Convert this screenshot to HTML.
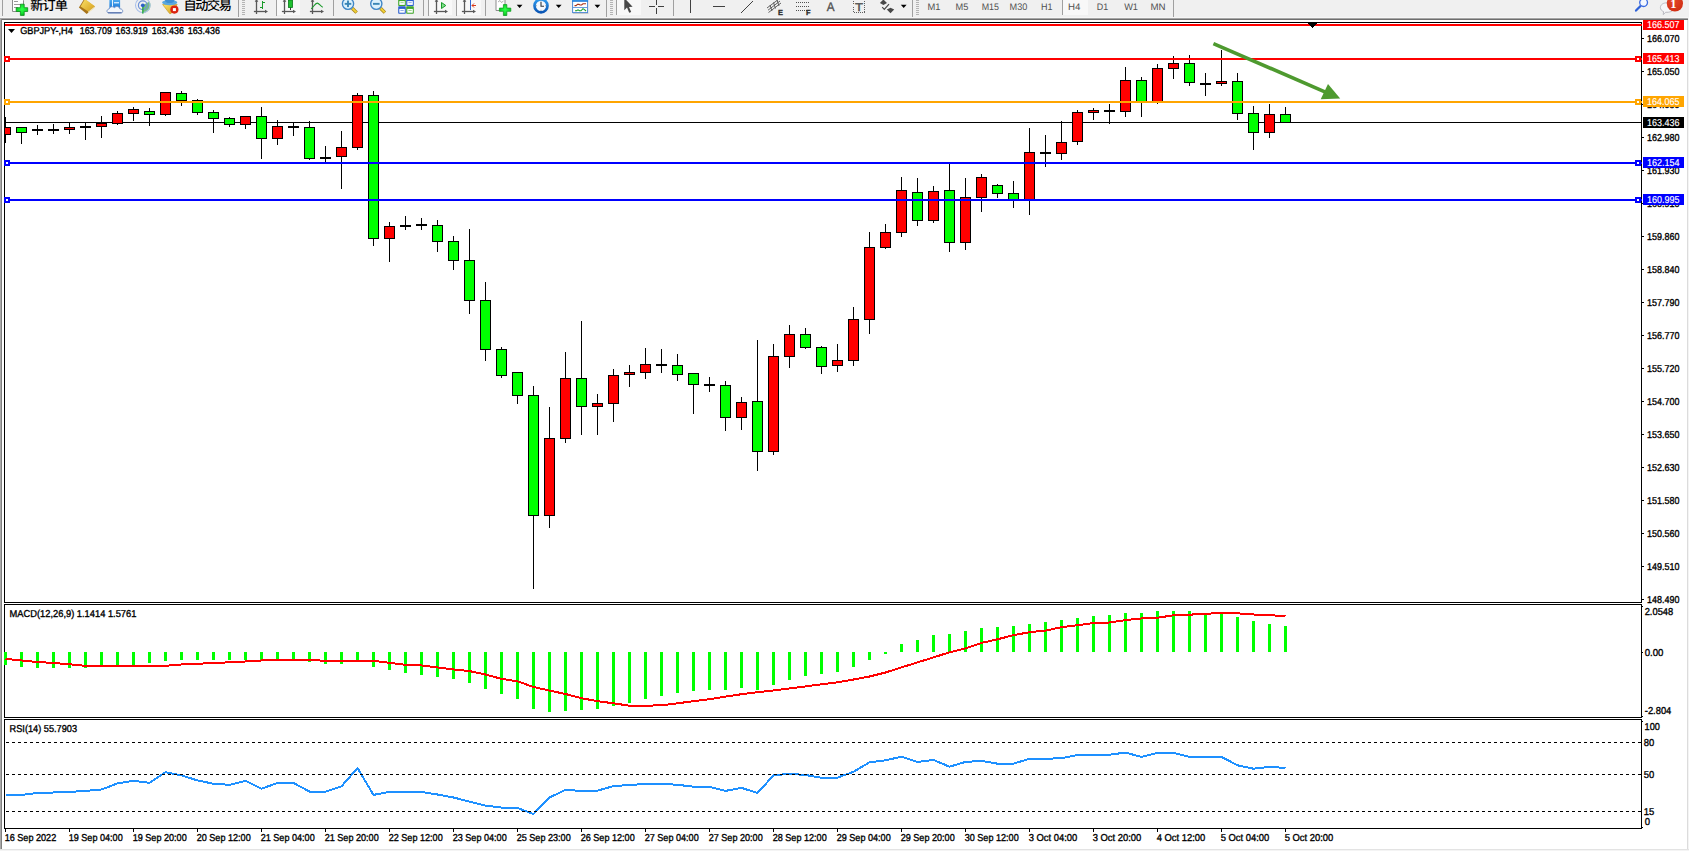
<!DOCTYPE html>
<html><head><meta charset="utf-8"><title>GBPJPY-,H4</title>
<style>
html,body{margin:0;padding:0;background:#fff;}
body{width:1689px;height:851px;overflow:hidden;position:relative;font-family:"Liberation Sans", sans-serif;}
svg{position:absolute;left:0;top:0;display:block;}
text{font-family:"Liberation Sans", sans-serif;white-space:pre;text-rendering:geometricPrecision;}
.cj{font-family:"Liberation Sans", "Noto Sans CJK SC", sans-serif;}
.ce{shape-rendering:crispEdges;}
</style></head><body>
<svg width="1689" height="851" viewBox="0 0 1689 851">
<g class="ce">
<rect x="0" y="0" width="1689" height="17" fill="#f0f0f0"/>
<rect x="0" y="17" width="1689" height="1" fill="#f6f6f6"/>
<rect x="0" y="18" width="1689" height="1" fill="#a6a6a6"/>
<rect x="0" y="19" width="1689" height="1" fill="#6e6e6e"/>
<rect x="0" y="19" width="1" height="831" fill="#a9a9a9"/>
<rect x="1" y="19" width="1" height="831" fill="#808080"/>
<rect x="1687" y="20" width="1" height="830" fill="#dcdcdc"/>
<rect x="1688" y="17" width="1" height="834" fill="#f4f4f4"/>
<rect x="0" y="849" width="1689" height="1" fill="#e3e3e3"/>
<rect x="0" y="850" width="1689" height="1" fill="#f4f4f4"/>
</g>
<g class="ce" fill="#000">
<rect x="4" y="22" width="1638" height="1"/>
<rect x="4" y="22" width="1" height="581"/>
<rect x="4" y="602" width="1638" height="1"/>
<rect x="1641" y="22" width="1" height="581"/><rect x="1641" y="604" width="1" height="114"/><rect x="1641" y="719" width="1" height="110"/>
<rect x="4" y="604" width="1638" height="1"/>
<rect x="4" y="604" width="1" height="114"/>
<rect x="4" y="717" width="1638" height="1"/>
<rect x="4" y="719" width="1638" height="1"/>
<rect x="4" y="719" width="1" height="110"/>
<rect x="4" y="828" width="1638" height="1"/>
</g>
<rect class="ce" x="5" y="122" width="1636" height="1" fill="#000"/>
<g class="ce" clip-path="url(#cm)">
<defs><clipPath id="cm"><rect x="5" y="23" width="1636" height="579"/></clipPath></defs>
<rect x="5" y="117" width="1" height="26" fill="#000"/>
<rect x="0" y="127" width="11" height="8" fill="#000"/>
<rect x="1" y="128" width="9" height="6" fill="#ff0000"/>
<rect x="21" y="127" width="1" height="17" fill="#000"/>
<rect x="16" y="127" width="11" height="6" fill="#000"/>
<rect x="17" y="128" width="9" height="4" fill="#00ff00"/>
<rect x="37" y="125" width="1" height="10" fill="#000"/>
<rect x="32" y="129" width="11" height="2" fill="#000"/>
<rect x="53" y="124" width="1" height="10" fill="#000"/>
<rect x="48" y="129" width="11" height="2" fill="#000"/>
<rect x="69" y="122" width="1" height="12" fill="#000"/>
<rect x="64" y="127" width="11" height="3" fill="#000"/>
<rect x="65" y="128" width="9" height="1" fill="#ff0000"/>
<rect x="85" y="122" width="1" height="18" fill="#000"/>
<rect x="80" y="126" width="11" height="2" fill="#000"/>
<rect x="101" y="116" width="1" height="22" fill="#000"/>
<rect x="96" y="123" width="11" height="4" fill="#000"/>
<rect x="97" y="124" width="9" height="2" fill="#ff0000"/>
<rect x="117" y="111" width="1" height="14" fill="#000"/>
<rect x="112" y="113" width="11" height="11" fill="#000"/>
<rect x="113" y="114" width="9" height="9" fill="#ff0000"/>
<rect x="133" y="107" width="1" height="14" fill="#000"/>
<rect x="128" y="109" width="11" height="5" fill="#000"/>
<rect x="129" y="110" width="9" height="3" fill="#ff0000"/>
<rect x="149" y="108" width="1" height="18" fill="#000"/>
<rect x="144" y="111" width="11" height="4" fill="#000"/>
<rect x="145" y="112" width="9" height="2" fill="#00ff00"/>
<rect x="165" y="92" width="1" height="24" fill="#000"/>
<rect x="160" y="92" width="11" height="23" fill="#000"/>
<rect x="161" y="93" width="9" height="21" fill="#ff0000"/>
<rect x="181" y="91" width="1" height="15" fill="#000"/>
<rect x="176" y="93" width="11" height="8" fill="#000"/>
<rect x="177" y="94" width="9" height="6" fill="#00ff00"/>
<rect x="197" y="99" width="1" height="16" fill="#000"/>
<rect x="192" y="100" width="11" height="13" fill="#000"/>
<rect x="193" y="101" width="9" height="11" fill="#00ff00"/>
<rect x="213" y="110" width="1" height="23" fill="#000"/>
<rect x="208" y="112" width="11" height="7" fill="#000"/>
<rect x="209" y="113" width="9" height="5" fill="#00ff00"/>
<rect x="229" y="117" width="1" height="10" fill="#000"/>
<rect x="224" y="118" width="11" height="7" fill="#000"/>
<rect x="225" y="119" width="9" height="5" fill="#00ff00"/>
<rect x="245" y="116" width="1" height="13" fill="#000"/>
<rect x="240" y="116" width="11" height="9" fill="#000"/>
<rect x="241" y="117" width="9" height="7" fill="#ff0000"/>
<rect x="261" y="107" width="1" height="52" fill="#000"/>
<rect x="256" y="116" width="11" height="23" fill="#000"/>
<rect x="257" y="117" width="9" height="21" fill="#00ff00"/>
<rect x="277" y="120" width="1" height="25" fill="#000"/>
<rect x="272" y="126" width="11" height="13" fill="#000"/>
<rect x="273" y="127" width="9" height="11" fill="#ff0000"/>
<rect x="293" y="122" width="1" height="14" fill="#000"/>
<rect x="288" y="126" width="11" height="2" fill="#000"/>
<rect x="309" y="121" width="1" height="39" fill="#000"/>
<rect x="304" y="127" width="11" height="32" fill="#000"/>
<rect x="305" y="128" width="9" height="30" fill="#00ff00"/>
<rect x="325" y="146" width="1" height="16" fill="#000"/>
<rect x="320" y="157" width="11" height="2" fill="#000"/>
<rect x="341" y="131" width="1" height="58" fill="#000"/>
<rect x="336" y="147" width="11" height="10" fill="#000"/>
<rect x="337" y="148" width="9" height="8" fill="#ff0000"/>
<rect x="357" y="93" width="1" height="57" fill="#000"/>
<rect x="352" y="95" width="11" height="53" fill="#000"/>
<rect x="353" y="96" width="9" height="51" fill="#ff0000"/>
<rect x="373" y="91" width="1" height="155" fill="#000"/>
<rect x="368" y="95" width="11" height="144" fill="#000"/>
<rect x="369" y="96" width="9" height="142" fill="#00ff00"/>
<rect x="389" y="222" width="1" height="40" fill="#000"/>
<rect x="384" y="226" width="11" height="13" fill="#000"/>
<rect x="385" y="227" width="9" height="11" fill="#ff0000"/>
<rect x="405" y="216" width="1" height="14" fill="#000"/>
<rect x="400" y="225" width="11" height="2" fill="#000"/>
<rect x="421" y="218" width="1" height="12" fill="#000"/>
<rect x="416" y="224" width="11" height="2" fill="#000"/>
<rect x="437" y="220" width="1" height="32" fill="#000"/>
<rect x="432" y="225" width="11" height="17" fill="#000"/>
<rect x="433" y="226" width="9" height="15" fill="#00ff00"/>
<rect x="453" y="236" width="1" height="34" fill="#000"/>
<rect x="448" y="241" width="11" height="20" fill="#000"/>
<rect x="449" y="242" width="9" height="18" fill="#00ff00"/>
<rect x="469" y="229" width="1" height="85" fill="#000"/>
<rect x="464" y="260" width="11" height="41" fill="#000"/>
<rect x="465" y="261" width="9" height="39" fill="#00ff00"/>
<rect x="485" y="282" width="1" height="79" fill="#000"/>
<rect x="480" y="300" width="11" height="50" fill="#000"/>
<rect x="481" y="301" width="9" height="48" fill="#00ff00"/>
<rect x="501" y="347" width="1" height="31" fill="#000"/>
<rect x="496" y="349" width="11" height="27" fill="#000"/>
<rect x="497" y="350" width="9" height="25" fill="#00ff00"/>
<rect x="517" y="372" width="1" height="32" fill="#000"/>
<rect x="512" y="372" width="11" height="24" fill="#000"/>
<rect x="513" y="373" width="9" height="22" fill="#00ff00"/>
<rect x="533" y="386" width="1" height="203" fill="#000"/>
<rect x="528" y="395" width="11" height="121" fill="#000"/>
<rect x="529" y="396" width="9" height="119" fill="#00ff00"/>
<rect x="549" y="407" width="1" height="121" fill="#000"/>
<rect x="544" y="438" width="11" height="78" fill="#000"/>
<rect x="545" y="439" width="9" height="76" fill="#ff0000"/>
<rect x="565" y="352" width="1" height="91" fill="#000"/>
<rect x="560" y="378" width="11" height="61" fill="#000"/>
<rect x="561" y="379" width="9" height="59" fill="#ff0000"/>
<rect x="581" y="321" width="1" height="114" fill="#000"/>
<rect x="576" y="378" width="11" height="29" fill="#000"/>
<rect x="577" y="379" width="9" height="27" fill="#00ff00"/>
<rect x="597" y="394" width="1" height="41" fill="#000"/>
<rect x="592" y="403" width="11" height="4" fill="#000"/>
<rect x="593" y="404" width="9" height="2" fill="#ff0000"/>
<rect x="613" y="369" width="1" height="53" fill="#000"/>
<rect x="608" y="375" width="11" height="29" fill="#000"/>
<rect x="609" y="376" width="9" height="27" fill="#ff0000"/>
<rect x="629" y="365" width="1" height="22" fill="#000"/>
<rect x="624" y="372" width="11" height="3" fill="#000"/>
<rect x="625" y="373" width="9" height="1" fill="#ff0000"/>
<rect x="645" y="348" width="1" height="31" fill="#000"/>
<rect x="640" y="364" width="11" height="9" fill="#000"/>
<rect x="641" y="365" width="9" height="7" fill="#ff0000"/>
<rect x="661" y="349" width="1" height="24" fill="#000"/>
<rect x="656" y="364" width="11" height="2" fill="#000"/>
<rect x="677" y="354" width="1" height="27" fill="#000"/>
<rect x="672" y="365" width="11" height="10" fill="#000"/>
<rect x="673" y="366" width="9" height="8" fill="#00ff00"/>
<rect x="693" y="373" width="1" height="41" fill="#000"/>
<rect x="688" y="373" width="11" height="12" fill="#000"/>
<rect x="689" y="374" width="9" height="10" fill="#00ff00"/>
<rect x="709" y="377" width="1" height="15" fill="#000"/>
<rect x="704" y="384" width="11" height="2" fill="#000"/>
<rect x="725" y="381" width="1" height="50" fill="#000"/>
<rect x="720" y="385" width="11" height="33" fill="#000"/>
<rect x="721" y="386" width="9" height="31" fill="#00ff00"/>
<rect x="741" y="397" width="1" height="33" fill="#000"/>
<rect x="736" y="402" width="11" height="16" fill="#000"/>
<rect x="737" y="403" width="9" height="14" fill="#ff0000"/>
<rect x="757" y="340" width="1" height="131" fill="#000"/>
<rect x="752" y="401" width="11" height="51" fill="#000"/>
<rect x="753" y="402" width="9" height="49" fill="#00ff00"/>
<rect x="773" y="344" width="1" height="111" fill="#000"/>
<rect x="768" y="356" width="11" height="96" fill="#000"/>
<rect x="769" y="357" width="9" height="94" fill="#ff0000"/>
<rect x="789" y="325" width="1" height="43" fill="#000"/>
<rect x="784" y="334" width="11" height="23" fill="#000"/>
<rect x="785" y="335" width="9" height="21" fill="#ff0000"/>
<rect x="805" y="328" width="1" height="21" fill="#000"/>
<rect x="800" y="334" width="11" height="14" fill="#000"/>
<rect x="801" y="335" width="9" height="12" fill="#00ff00"/>
<rect x="821" y="346" width="1" height="28" fill="#000"/>
<rect x="816" y="347" width="11" height="20" fill="#000"/>
<rect x="817" y="348" width="9" height="18" fill="#00ff00"/>
<rect x="837" y="344" width="1" height="28" fill="#000"/>
<rect x="832" y="360" width="11" height="6" fill="#000"/>
<rect x="833" y="361" width="9" height="4" fill="#ff0000"/>
<rect x="853" y="307" width="1" height="59" fill="#000"/>
<rect x="848" y="319" width="11" height="42" fill="#000"/>
<rect x="849" y="320" width="9" height="40" fill="#ff0000"/>
<rect x="869" y="232" width="1" height="102" fill="#000"/>
<rect x="864" y="247" width="11" height="73" fill="#000"/>
<rect x="865" y="248" width="9" height="71" fill="#ff0000"/>
<rect x="885" y="224" width="1" height="25" fill="#000"/>
<rect x="880" y="232" width="11" height="16" fill="#000"/>
<rect x="881" y="233" width="9" height="14" fill="#ff0000"/>
<rect x="901" y="177" width="1" height="60" fill="#000"/>
<rect x="896" y="190" width="11" height="43" fill="#000"/>
<rect x="897" y="191" width="9" height="41" fill="#ff0000"/>
<rect x="917" y="178" width="1" height="48" fill="#000"/>
<rect x="912" y="192" width="11" height="29" fill="#000"/>
<rect x="913" y="193" width="9" height="27" fill="#00ff00"/>
<rect x="933" y="186" width="1" height="37" fill="#000"/>
<rect x="928" y="191" width="11" height="30" fill="#000"/>
<rect x="929" y="192" width="9" height="28" fill="#ff0000"/>
<rect x="949" y="164" width="1" height="88" fill="#000"/>
<rect x="944" y="190" width="11" height="53" fill="#000"/>
<rect x="945" y="191" width="9" height="51" fill="#00ff00"/>
<rect x="965" y="178" width="1" height="72" fill="#000"/>
<rect x="960" y="197" width="11" height="46" fill="#000"/>
<rect x="961" y="198" width="9" height="44" fill="#ff0000"/>
<rect x="981" y="174" width="1" height="38" fill="#000"/>
<rect x="976" y="177" width="11" height="21" fill="#000"/>
<rect x="977" y="178" width="9" height="19" fill="#ff0000"/>
<rect x="997" y="184" width="1" height="14" fill="#000"/>
<rect x="992" y="185" width="11" height="9" fill="#000"/>
<rect x="993" y="186" width="9" height="7" fill="#00ff00"/>
<rect x="1013" y="181" width="1" height="27" fill="#000"/>
<rect x="1008" y="193" width="11" height="7" fill="#000"/>
<rect x="1009" y="194" width="9" height="5" fill="#00ff00"/>
<rect x="1029" y="128" width="1" height="87" fill="#000"/>
<rect x="1024" y="152" width="11" height="48" fill="#000"/>
<rect x="1025" y="153" width="9" height="46" fill="#ff0000"/>
<rect x="1045" y="135" width="1" height="32" fill="#000"/>
<rect x="1040" y="152" width="11" height="2" fill="#000"/>
<rect x="1061" y="121" width="1" height="39" fill="#000"/>
<rect x="1056" y="142" width="11" height="12" fill="#000"/>
<rect x="1057" y="143" width="9" height="10" fill="#ff0000"/>
<rect x="1077" y="110" width="1" height="35" fill="#000"/>
<rect x="1072" y="112" width="11" height="30" fill="#000"/>
<rect x="1073" y="113" width="9" height="28" fill="#ff0000"/>
<rect x="1093" y="108" width="1" height="12" fill="#000"/>
<rect x="1088" y="110" width="11" height="3" fill="#000"/>
<rect x="1089" y="111" width="9" height="1" fill="#ff0000"/>
<rect x="1109" y="104" width="1" height="20" fill="#000"/>
<rect x="1104" y="110" width="11" height="2" fill="#000"/>
<rect x="1125" y="67" width="1" height="50" fill="#000"/>
<rect x="1120" y="80" width="11" height="32" fill="#000"/>
<rect x="1121" y="81" width="9" height="30" fill="#ff0000"/>
<rect x="1141" y="77" width="1" height="40" fill="#000"/>
<rect x="1136" y="80" width="11" height="22" fill="#000"/>
<rect x="1137" y="81" width="9" height="20" fill="#00ff00"/>
<rect x="1157" y="64" width="1" height="40" fill="#000"/>
<rect x="1152" y="68" width="11" height="34" fill="#000"/>
<rect x="1153" y="69" width="9" height="32" fill="#ff0000"/>
<rect x="1173" y="56" width="1" height="23" fill="#000"/>
<rect x="1168" y="63" width="11" height="6" fill="#000"/>
<rect x="1169" y="64" width="9" height="4" fill="#ff0000"/>
<rect x="1189" y="55" width="1" height="31" fill="#000"/>
<rect x="1184" y="63" width="11" height="20" fill="#000"/>
<rect x="1185" y="64" width="9" height="18" fill="#00ff00"/>
<rect x="1205" y="73" width="1" height="23" fill="#000"/>
<rect x="1200" y="83" width="11" height="2" fill="#000"/>
<rect x="1221" y="50" width="1" height="36" fill="#000"/>
<rect x="1216" y="81" width="11" height="3" fill="#000"/>
<rect x="1217" y="82" width="9" height="1" fill="#ff0000"/>
<rect x="1237" y="73" width="1" height="47" fill="#000"/>
<rect x="1232" y="81" width="11" height="33" fill="#000"/>
<rect x="1233" y="82" width="9" height="31" fill="#00ff00"/>
<rect x="1253" y="106" width="1" height="44" fill="#000"/>
<rect x="1248" y="113" width="11" height="20" fill="#000"/>
<rect x="1249" y="114" width="9" height="18" fill="#00ff00"/>
<rect x="1269" y="104" width="1" height="34" fill="#000"/>
<rect x="1264" y="114" width="11" height="19" fill="#000"/>
<rect x="1265" y="115" width="9" height="17" fill="#ff0000"/>
<rect x="1285" y="107" width="1" height="15" fill="#000"/>
<rect x="1280" y="114" width="11" height="9" fill="#000"/>
<rect x="1281" y="115" width="9" height="7" fill="#00ff00"/>
</g>
<rect class="ce" x="5" y="24" width="1637" height="2" fill="#ff0000"/>
<rect class="ce" x="5" y="58" width="1637" height="2" fill="#ff0000"/>
<rect class="ce" x="4" y="56" width="6" height="6" fill="#ff0000"/>
<rect class="ce" x="6" y="58" width="2" height="2" fill="#fff"/>
<rect class="ce" x="1635" y="56" width="6" height="6" fill="#ff0000"/>
<rect class="ce" x="1637" y="58" width="2" height="2" fill="#fff"/>
<rect class="ce" x="5" y="101" width="1637" height="2" fill="#ffa500"/>
<rect class="ce" x="4" y="99" width="6" height="6" fill="#ffa500"/>
<rect class="ce" x="6" y="101" width="2" height="2" fill="#fff"/>
<rect class="ce" x="1635" y="99" width="6" height="6" fill="#ffa500"/>
<rect class="ce" x="1637" y="101" width="2" height="2" fill="#fff"/>
<rect class="ce" x="5" y="162" width="1637" height="2" fill="#0000ff"/>
<rect class="ce" x="4" y="160" width="6" height="6" fill="#0000ff"/>
<rect class="ce" x="6" y="162" width="2" height="2" fill="#fff"/>
<rect class="ce" x="1635" y="160" width="6" height="6" fill="#0000ff"/>
<rect class="ce" x="1637" y="162" width="2" height="2" fill="#fff"/>
<rect class="ce" x="5" y="199" width="1637" height="2" fill="#0000ff"/>
<rect class="ce" x="4" y="197" width="6" height="6" fill="#0000ff"/>
<rect class="ce" x="6" y="199" width="2" height="2" fill="#fff"/>
<rect class="ce" x="1635" y="197" width="6" height="6" fill="#0000ff"/>
<rect class="ce" x="1637" y="199" width="2" height="2" fill="#fff"/>
<g class="ce" fill="#000"><rect x="1308" y="23" width="9" height="1"/><rect x="1309" y="24" width="7" height="1"/><rect x="1310" y="25" width="5" height="1"/><rect x="1311" y="26" width="3" height="1"/><rect x="1312" y="27" width="1" height="1"/></g>
<g stroke="#4e9a2f" fill="#4e9a2f"><line x1="1213.4" y1="43.6" x2="1326" y2="92.3" stroke-width="3.6"/><path d="M1340.2,98.5 L1328,83.9 L1320.7,99.3 Z" stroke="none"/></g>
<rect class="ce" x="1642" y="38" width="2" height="1" fill="#000"/>
<text x="1647" y="42" font-size="10" fill="#000" stroke="#000" stroke-width="0.35" text-anchor="start" textLength="32.4" lengthAdjust="spacingAndGlyphs">166.070</text>
<rect class="ce" x="1642" y="71" width="2" height="1" fill="#000"/>
<text x="1647" y="75" font-size="10" fill="#000" stroke="#000" stroke-width="0.35" text-anchor="start" textLength="32.4" lengthAdjust="spacingAndGlyphs">165.050</text>
<rect class="ce" x="1642" y="104" width="2" height="1" fill="#000"/>
<text x="1647" y="108" font-size="10" fill="#000" stroke="#000" stroke-width="0.35" text-anchor="start" textLength="32.4" lengthAdjust="spacingAndGlyphs">164.030</text>
<rect class="ce" x="1642" y="137" width="2" height="1" fill="#000"/>
<text x="1647" y="141" font-size="10" fill="#000" stroke="#000" stroke-width="0.35" text-anchor="start" textLength="32.4" lengthAdjust="spacingAndGlyphs">162.980</text>
<rect class="ce" x="1642" y="170" width="2" height="1" fill="#000"/>
<text x="1647" y="174" font-size="10" fill="#000" stroke="#000" stroke-width="0.35" text-anchor="start" textLength="32.4" lengthAdjust="spacingAndGlyphs">161.930</text>
<rect class="ce" x="1642" y="203" width="2" height="1" fill="#000"/>
<text x="1647" y="207" font-size="10" fill="#000" stroke="#000" stroke-width="0.35" text-anchor="start" textLength="32.4" lengthAdjust="spacingAndGlyphs">160.910</text>
<rect class="ce" x="1642" y="236" width="2" height="1" fill="#000"/>
<text x="1647" y="240" font-size="10" fill="#000" stroke="#000" stroke-width="0.35" text-anchor="start" textLength="32.4" lengthAdjust="spacingAndGlyphs">159.860</text>
<rect class="ce" x="1642" y="269" width="2" height="1" fill="#000"/>
<text x="1647" y="273" font-size="10" fill="#000" stroke="#000" stroke-width="0.35" text-anchor="start" textLength="32.4" lengthAdjust="spacingAndGlyphs">158.840</text>
<rect class="ce" x="1642" y="302" width="2" height="1" fill="#000"/>
<text x="1647" y="306" font-size="10" fill="#000" stroke="#000" stroke-width="0.35" text-anchor="start" textLength="32.4" lengthAdjust="spacingAndGlyphs">157.790</text>
<rect class="ce" x="1642" y="335" width="2" height="1" fill="#000"/>
<text x="1647" y="339" font-size="10" fill="#000" stroke="#000" stroke-width="0.35" text-anchor="start" textLength="32.4" lengthAdjust="spacingAndGlyphs">156.770</text>
<rect class="ce" x="1642" y="368" width="2" height="1" fill="#000"/>
<text x="1647" y="372" font-size="10" fill="#000" stroke="#000" stroke-width="0.35" text-anchor="start" textLength="32.4" lengthAdjust="spacingAndGlyphs">155.720</text>
<rect class="ce" x="1642" y="401" width="2" height="1" fill="#000"/>
<text x="1647" y="405" font-size="10" fill="#000" stroke="#000" stroke-width="0.35" text-anchor="start" textLength="32.4" lengthAdjust="spacingAndGlyphs">154.700</text>
<rect class="ce" x="1642" y="434" width="2" height="1" fill="#000"/>
<text x="1647" y="438" font-size="10" fill="#000" stroke="#000" stroke-width="0.35" text-anchor="start" textLength="32.4" lengthAdjust="spacingAndGlyphs">153.650</text>
<rect class="ce" x="1642" y="467" width="2" height="1" fill="#000"/>
<text x="1647" y="471" font-size="10" fill="#000" stroke="#000" stroke-width="0.35" text-anchor="start" textLength="32.4" lengthAdjust="spacingAndGlyphs">152.630</text>
<rect class="ce" x="1642" y="500" width="2" height="1" fill="#000"/>
<text x="1647" y="504" font-size="10" fill="#000" stroke="#000" stroke-width="0.35" text-anchor="start" textLength="32.4" lengthAdjust="spacingAndGlyphs">151.580</text>
<rect class="ce" x="1642" y="533" width="2" height="1" fill="#000"/>
<text x="1647" y="537" font-size="10" fill="#000" stroke="#000" stroke-width="0.35" text-anchor="start" textLength="32.4" lengthAdjust="spacingAndGlyphs">150.560</text>
<rect class="ce" x="1642" y="566" width="2" height="1" fill="#000"/>
<text x="1647" y="570" font-size="10" fill="#000" stroke="#000" stroke-width="0.35" text-anchor="start" textLength="32.4" lengthAdjust="spacingAndGlyphs">149.510</text>
<rect class="ce" x="1642" y="599" width="2" height="1" fill="#000"/>
<text x="1647" y="603" font-size="10" fill="#000" stroke="#000" stroke-width="0.35" text-anchor="start" textLength="32.4" lengthAdjust="spacingAndGlyphs">148.490</text>
<rect class="ce" x="1643" y="20" width="41" height="10" fill="#ff0000"/>
<text x="1647" y="28" font-size="10" fill="#fff" stroke="#fff" stroke-width="0.15" text-anchor="start" textLength="32.4" lengthAdjust="spacingAndGlyphs">166.507</text>
<rect class="ce" x="1643" y="53" width="41" height="11" fill="#ff0000"/>
<text x="1647" y="62" font-size="10" fill="#fff" stroke="#fff" stroke-width="0.15" text-anchor="start" textLength="32.4" lengthAdjust="spacingAndGlyphs">165.413</text>
<rect class="ce" x="1643" y="96" width="41" height="11" fill="#ffa500"/>
<text x="1647" y="105" font-size="10" fill="#fff" stroke="#fff" stroke-width="0.15" text-anchor="start" textLength="32.4" lengthAdjust="spacingAndGlyphs">164.065</text>
<rect class="ce" x="1643" y="117" width="41" height="11" fill="#000"/>
<text x="1647" y="126" font-size="10" fill="#fff" stroke="#fff" stroke-width="0.15" text-anchor="start" textLength="32.4" lengthAdjust="spacingAndGlyphs">163.436</text>
<rect class="ce" x="1643" y="157" width="41" height="11" fill="#0000ff"/>
<text x="1647" y="166" font-size="10" fill="#fff" stroke="#fff" stroke-width="0.15" text-anchor="start" textLength="32.4" lengthAdjust="spacingAndGlyphs">162.154</text>
<rect class="ce" x="1643" y="194" width="41" height="11" fill="#0000ff"/>
<text x="1647" y="203" font-size="10" fill="#fff" stroke="#fff" stroke-width="0.15" text-anchor="start" textLength="32.4" lengthAdjust="spacingAndGlyphs">160.995</text>
<path d="M8,29 L15,29 L11.5,33 Z" fill="#000"/>
<text x="20.2" y="34" font-size="10" fill="#000" stroke="#000" stroke-width="0.35" text-anchor="start" textLength="52.6" lengthAdjust="spacingAndGlyphs">GBPJPY-,H4</text>
<text x="79.7" y="34" font-size="10" fill="#000" stroke="#000" stroke-width="0.35" text-anchor="start" textLength="32.2" lengthAdjust="spacingAndGlyphs">163.709</text>
<text x="115.6" y="34" font-size="10" fill="#000" stroke="#000" stroke-width="0.35" text-anchor="start" textLength="32.2" lengthAdjust="spacingAndGlyphs">163.919</text>
<text x="151.7" y="34" font-size="10" fill="#000" stroke="#000" stroke-width="0.35" text-anchor="start" textLength="32.2" lengthAdjust="spacingAndGlyphs">163.436</text>
<text x="187.7" y="34" font-size="10" fill="#000" stroke="#000" stroke-width="0.35" text-anchor="start" textLength="32.2" lengthAdjust="spacingAndGlyphs">163.436</text>
<g class="ce">
<rect x="4" y="652" width="3" height="13" fill="#00ff00"/>
<rect x="20" y="652" width="3" height="15" fill="#00ff00"/>
<rect x="36" y="652" width="3" height="16" fill="#00ff00"/>
<rect x="52" y="652" width="3" height="16" fill="#00ff00"/>
<rect x="68" y="652" width="3" height="16" fill="#00ff00"/>
<rect x="84" y="652" width="3" height="16" fill="#00ff00"/>
<rect x="100" y="652" width="3" height="13" fill="#00ff00"/>
<rect x="116" y="652" width="3" height="13" fill="#00ff00"/>
<rect x="132" y="652" width="3" height="13" fill="#00ff00"/>
<rect x="148" y="652" width="3" height="11" fill="#00ff00"/>
<rect x="164" y="652" width="3" height="9" fill="#00ff00"/>
<rect x="180" y="652" width="3" height="8" fill="#00ff00"/>
<rect x="196" y="652" width="3" height="8" fill="#00ff00"/>
<rect x="212" y="652" width="3" height="8" fill="#00ff00"/>
<rect x="228" y="652" width="3" height="8" fill="#00ff00"/>
<rect x="244" y="652" width="3" height="8" fill="#00ff00"/>
<rect x="260" y="652" width="3" height="8" fill="#00ff00"/>
<rect x="276" y="652" width="3" height="7" fill="#00ff00"/>
<rect x="292" y="652" width="3" height="7" fill="#00ff00"/>
<rect x="308" y="652" width="3" height="10" fill="#00ff00"/>
<rect x="324" y="652" width="3" height="12" fill="#00ff00"/>
<rect x="340" y="652" width="3" height="12" fill="#00ff00"/>
<rect x="356" y="652" width="3" height="8" fill="#00ff00"/>
<rect x="372" y="652" width="3" height="15" fill="#00ff00"/>
<rect x="388" y="652" width="3" height="18" fill="#00ff00"/>
<rect x="404" y="652" width="3" height="21" fill="#00ff00"/>
<rect x="420" y="652" width="3" height="23" fill="#00ff00"/>
<rect x="436" y="652" width="3" height="25" fill="#00ff00"/>
<rect x="452" y="652" width="3" height="27" fill="#00ff00"/>
<rect x="468" y="652" width="3" height="31" fill="#00ff00"/>
<rect x="484" y="652" width="3" height="37" fill="#00ff00"/>
<rect x="500" y="652" width="3" height="42" fill="#00ff00"/>
<rect x="516" y="652" width="3" height="47" fill="#00ff00"/>
<rect x="532" y="652" width="3" height="57" fill="#00ff00"/>
<rect x="548" y="652" width="3" height="60" fill="#00ff00"/>
<rect x="564" y="652" width="3" height="59" fill="#00ff00"/>
<rect x="580" y="652" width="3" height="58" fill="#00ff00"/>
<rect x="596" y="652" width="3" height="57" fill="#00ff00"/>
<rect x="612" y="652" width="3" height="54" fill="#00ff00"/>
<rect x="628" y="652" width="3" height="51" fill="#00ff00"/>
<rect x="644" y="652" width="3" height="47" fill="#00ff00"/>
<rect x="660" y="652" width="3" height="44" fill="#00ff00"/>
<rect x="676" y="652" width="3" height="41" fill="#00ff00"/>
<rect x="692" y="652" width="3" height="39" fill="#00ff00"/>
<rect x="708" y="652" width="3" height="38" fill="#00ff00"/>
<rect x="724" y="652" width="3" height="38" fill="#00ff00"/>
<rect x="740" y="652" width="3" height="36" fill="#00ff00"/>
<rect x="756" y="652" width="3" height="38" fill="#00ff00"/>
<rect x="772" y="652" width="3" height="33" fill="#00ff00"/>
<rect x="788" y="652" width="3" height="28" fill="#00ff00"/>
<rect x="804" y="652" width="3" height="24" fill="#00ff00"/>
<rect x="820" y="652" width="3" height="22" fill="#00ff00"/>
<rect x="836" y="652" width="3" height="20" fill="#00ff00"/>
<rect x="852" y="652" width="3" height="15" fill="#00ff00"/>
<rect x="868" y="652" width="3" height="8" fill="#00ff00"/>
<rect x="884" y="652" width="3" height="2" fill="#00ff00"/>
<rect x="900" y="644" width="3" height="8" fill="#00ff00"/>
<rect x="916" y="640" width="3" height="12" fill="#00ff00"/>
<rect x="932" y="635" width="3" height="17" fill="#00ff00"/>
<rect x="948" y="634" width="3" height="18" fill="#00ff00"/>
<rect x="964" y="631" width="3" height="21" fill="#00ff00"/>
<rect x="980" y="628" width="3" height="24" fill="#00ff00"/>
<rect x="996" y="627" width="3" height="25" fill="#00ff00"/>
<rect x="1012" y="626" width="3" height="26" fill="#00ff00"/>
<rect x="1028" y="624" width="3" height="28" fill="#00ff00"/>
<rect x="1044" y="622" width="3" height="30" fill="#00ff00"/>
<rect x="1060" y="620" width="3" height="32" fill="#00ff00"/>
<rect x="1076" y="618" width="3" height="34" fill="#00ff00"/>
<rect x="1092" y="616" width="3" height="36" fill="#00ff00"/>
<rect x="1108" y="615" width="3" height="37" fill="#00ff00"/>
<rect x="1124" y="613" width="3" height="39" fill="#00ff00"/>
<rect x="1140" y="613" width="3" height="39" fill="#00ff00"/>
<rect x="1156" y="611" width="3" height="41" fill="#00ff00"/>
<rect x="1172" y="611" width="3" height="41" fill="#00ff00"/>
<rect x="1188" y="611" width="3" height="41" fill="#00ff00"/>
<rect x="1204" y="613" width="3" height="39" fill="#00ff00"/>
<rect x="1220" y="613" width="3" height="39" fill="#00ff00"/>
<rect x="1236" y="617" width="3" height="35" fill="#00ff00"/>
<rect x="1252" y="621" width="3" height="31" fill="#00ff00"/>
<rect x="1268" y="624" width="3" height="28" fill="#00ff00"/>
<rect x="1284" y="626" width="3" height="26" fill="#00ff00"/>
</g>
<polyline class="ce" points="5.5,658.8 21.5,660.5 37.5,662 53.5,663 69.5,664.3 85.5,665.8 101.5,665.8 117.5,665.8 133.5,665.8 149.5,665.8 165.5,665.8 181.5,664.5 197.5,663.8 213.5,663 229.5,662.3 245.5,661.5 261.5,660.5 277.5,660 293.5,660 309.5,660 325.5,660.8 341.5,660.8 357.5,660.8 373.5,660.8 389.5,662.8 405.5,664.8 421.5,665.4 437.5,667.4 453.5,669.4 469.5,671.1 485.5,674.5 501.5,678.9 517.5,681.3 533.5,687 549.5,690.6 565.5,694 581.5,698.2 597.5,701.2 613.5,703.3 629.5,705.7 645.5,705.7 661.5,705.3 677.5,703.3 693.5,701.2 709.5,699.2 725.5,696.6 741.5,694.2 757.5,692.2 773.5,690.4 789.5,688.4 805.5,686.4 821.5,684.3 837.5,682.3 853.5,679.5 869.5,676.5 885.5,672.5 901.5,667.4 917.5,662.4 933.5,657.4 949.5,652.3 965.5,648.3 981.5,642.9 997.5,639.3 1013.5,635.2 1029.5,632.2 1045.5,630.6 1061.5,627.2 1077.5,625.2 1093.5,623.1 1109.5,622.5 1125.5,620.1 1141.5,618.5 1157.5,617.7 1173.5,615.3 1189.5,614.7 1205.5,613.7 1221.5,613.1 1237.5,613.3 1253.5,614.5 1269.5,615.3 1285.5,615.9" fill="none" stroke="#ff0000" stroke-width="2" stroke-linejoin="round"/>
<text x="9.6" y="617" font-size="10" fill="#000" stroke="#000" stroke-width="0.35" text-anchor="start" textLength="126.8" lengthAdjust="spacingAndGlyphs">MACD(12,26,9) 1.1414 1.5761</text>
<rect class="ce" x="1642" y="606" width="1" height="1" fill="#000"/>
<rect class="ce" x="1642" y="652" width="1" height="1" fill="#000"/>
<rect class="ce" x="1642" y="716" width="1" height="1" fill="#000"/>
<text x="1644.7" y="615" font-size="10" fill="#000" stroke="#000" stroke-width="0.35" text-anchor="start" textLength="28.5" lengthAdjust="spacingAndGlyphs">2.0548</text>
<text x="1644.7" y="656" font-size="10" fill="#000" stroke="#000" stroke-width="0.35" text-anchor="start" textLength="18.7" lengthAdjust="spacingAndGlyphs">0.00</text>
<text x="1644.8" y="714" font-size="10" fill="#000" stroke="#000" stroke-width="0.35" text-anchor="start" textLength="26.5" lengthAdjust="spacingAndGlyphs">-2.804</text>
<polyline class="ce" points="5.5,794.9 21.5,794.9 37.5,792.9 53.5,792.5 69.5,791.9 85.5,790.9 101.5,789.5 117.5,783.4 133.5,780.8 149.5,782.8 165.5,772.2 181.5,775.4 197.5,780.4 213.5,783.8 229.5,784.8 245.5,780.8 261.5,788.7 277.5,783 293.5,783 309.5,791.5 325.5,791.6 341.5,786.3 357.5,768 373.5,794.9 389.5,791.9 405.5,791.7 421.5,791.9 437.5,794.5 453.5,797.5 469.5,801.6 485.5,805.6 501.5,807.6 517.5,808 533.5,814 549.5,797.5 565.5,789.9 581.5,790.9 597.5,790.7 613.5,786.1 629.5,785 645.5,784 661.5,783.8 677.5,784.8 693.5,786.7 709.5,786.9 725.5,790.9 741.5,787.9 757.5,792.9 773.5,775.4 789.5,773.8 805.5,775 821.5,777.8 837.5,777.6 853.5,771.8 869.5,762.3 885.5,760.3 901.5,756.7 917.5,761.9 933.5,759.9 949.5,766.7 965.5,761.9 981.5,760.9 997.5,763.7 1013.5,763.7 1029.5,758.7 1045.5,758.7 1061.5,758.3 1077.5,754.9 1093.5,754.9 1109.5,754.7 1125.5,752.6 1141.5,756.9 1157.5,752.8 1173.5,752.8 1189.5,756.9 1205.5,756.9 1221.5,756.9 1237.5,765.3 1253.5,768.7 1269.5,766.9 1285.5,767.9" fill="none" stroke="#1e90ff" stroke-width="2" stroke-linejoin="round"/>
<line class="ce" x1="6" y1="742.5" x2="1641" y2="742.5" stroke="#000" stroke-width="1" stroke-dasharray="3,3"/>
<line class="ce" x1="6" y1="774.5" x2="1641" y2="774.5" stroke="#000" stroke-width="1" stroke-dasharray="3,3"/>
<line class="ce" x1="6" y1="811.5" x2="1641" y2="811.5" stroke="#000" stroke-width="1" stroke-dasharray="3,3"/>
<text x="9.6" y="732" font-size="10" fill="#000" stroke="#000" stroke-width="0.35" text-anchor="start" textLength="67.4" lengthAdjust="spacingAndGlyphs">RSI(14) 55.7903</text>
<text x="1644.6" y="730" font-size="10" fill="#000" stroke="#000" stroke-width="0.35" text-anchor="start" textLength="15.3" lengthAdjust="spacingAndGlyphs">100</text>
<text x="1643.8" y="746" font-size="10" fill="#000" stroke="#000" stroke-width="0.35" text-anchor="start" textLength="10.5" lengthAdjust="spacingAndGlyphs">80</text>
<text x="1643.8" y="778" font-size="10" fill="#000" stroke="#000" stroke-width="0.35" text-anchor="start" textLength="10.5" lengthAdjust="spacingAndGlyphs">50</text>
<text x="1643.8" y="815" font-size="10" fill="#000" stroke="#000" stroke-width="0.35" text-anchor="start" textLength="10.5" lengthAdjust="spacingAndGlyphs">15</text>
<text x="1644.7" y="825" font-size="10" fill="#000" stroke="#000" stroke-width="0.35" text-anchor="start" textLength="5.3" lengthAdjust="spacingAndGlyphs">0</text>
<rect class="ce" x="1642" y="721" width="1" height="1" fill="#000"/>
<rect class="ce" x="1642" y="827" width="1" height="1" fill="#000"/>
<rect class="ce" x="5" y="829" width="1" height="3" fill="#000"/>
<text x="4.7" y="841" font-size="10" fill="#000" stroke="#000" stroke-width="0.35" text-anchor="start" textLength="51.5" lengthAdjust="spacingAndGlyphs">16 Sep 2022</text>
<rect class="ce" x="69" y="829" width="1" height="3" fill="#000"/>
<text x="68.7" y="841" font-size="10" fill="#000" stroke="#000" stroke-width="0.35" text-anchor="start" textLength="54.0" lengthAdjust="spacingAndGlyphs">19 Sep 04:00</text>
<rect class="ce" x="133" y="829" width="1" height="3" fill="#000"/>
<text x="132.7" y="841" font-size="10" fill="#000" stroke="#000" stroke-width="0.35" text-anchor="start" textLength="54.0" lengthAdjust="spacingAndGlyphs">19 Sep 20:00</text>
<rect class="ce" x="197" y="829" width="1" height="3" fill="#000"/>
<text x="196.7" y="841" font-size="10" fill="#000" stroke="#000" stroke-width="0.35" text-anchor="start" textLength="54.0" lengthAdjust="spacingAndGlyphs">20 Sep 12:00</text>
<rect class="ce" x="261" y="829" width="1" height="3" fill="#000"/>
<text x="260.7" y="841" font-size="10" fill="#000" stroke="#000" stroke-width="0.35" text-anchor="start" textLength="54.0" lengthAdjust="spacingAndGlyphs">21 Sep 04:00</text>
<rect class="ce" x="325" y="829" width="1" height="3" fill="#000"/>
<text x="324.7" y="841" font-size="10" fill="#000" stroke="#000" stroke-width="0.35" text-anchor="start" textLength="54.0" lengthAdjust="spacingAndGlyphs">21 Sep 20:00</text>
<rect class="ce" x="389" y="829" width="1" height="3" fill="#000"/>
<text x="388.7" y="841" font-size="10" fill="#000" stroke="#000" stroke-width="0.35" text-anchor="start" textLength="54.0" lengthAdjust="spacingAndGlyphs">22 Sep 12:00</text>
<rect class="ce" x="453" y="829" width="1" height="3" fill="#000"/>
<text x="452.7" y="841" font-size="10" fill="#000" stroke="#000" stroke-width="0.35" text-anchor="start" textLength="54.0" lengthAdjust="spacingAndGlyphs">23 Sep 04:00</text>
<rect class="ce" x="517" y="829" width="1" height="3" fill="#000"/>
<text x="516.7" y="841" font-size="10" fill="#000" stroke="#000" stroke-width="0.35" text-anchor="start" textLength="54.0" lengthAdjust="spacingAndGlyphs">25 Sep 23:00</text>
<rect class="ce" x="581" y="829" width="1" height="3" fill="#000"/>
<text x="580.7" y="841" font-size="10" fill="#000" stroke="#000" stroke-width="0.35" text-anchor="start" textLength="54.0" lengthAdjust="spacingAndGlyphs">26 Sep 12:00</text>
<rect class="ce" x="645" y="829" width="1" height="3" fill="#000"/>
<text x="644.7" y="841" font-size="10" fill="#000" stroke="#000" stroke-width="0.35" text-anchor="start" textLength="54.0" lengthAdjust="spacingAndGlyphs">27 Sep 04:00</text>
<rect class="ce" x="709" y="829" width="1" height="3" fill="#000"/>
<text x="708.7" y="841" font-size="10" fill="#000" stroke="#000" stroke-width="0.35" text-anchor="start" textLength="54.0" lengthAdjust="spacingAndGlyphs">27 Sep 20:00</text>
<rect class="ce" x="773" y="829" width="1" height="3" fill="#000"/>
<text x="772.7" y="841" font-size="10" fill="#000" stroke="#000" stroke-width="0.35" text-anchor="start" textLength="54.0" lengthAdjust="spacingAndGlyphs">28 Sep 12:00</text>
<rect class="ce" x="837" y="829" width="1" height="3" fill="#000"/>
<text x="836.7" y="841" font-size="10" fill="#000" stroke="#000" stroke-width="0.35" text-anchor="start" textLength="54.0" lengthAdjust="spacingAndGlyphs">29 Sep 04:00</text>
<rect class="ce" x="901" y="829" width="1" height="3" fill="#000"/>
<text x="900.7" y="841" font-size="10" fill="#000" stroke="#000" stroke-width="0.35" text-anchor="start" textLength="54.0" lengthAdjust="spacingAndGlyphs">29 Sep 20:00</text>
<rect class="ce" x="965" y="829" width="1" height="3" fill="#000"/>
<text x="964.7" y="841" font-size="10" fill="#000" stroke="#000" stroke-width="0.35" text-anchor="start" textLength="54.0" lengthAdjust="spacingAndGlyphs">30 Sep 12:00</text>
<rect class="ce" x="1029" y="829" width="1" height="3" fill="#000"/>
<text x="1028.7" y="841" font-size="10" fill="#000" stroke="#000" stroke-width="0.35" text-anchor="start" textLength="48.6" lengthAdjust="spacingAndGlyphs">3 Oct 04:00</text>
<rect class="ce" x="1093" y="829" width="1" height="3" fill="#000"/>
<text x="1092.7" y="841" font-size="10" fill="#000" stroke="#000" stroke-width="0.35" text-anchor="start" textLength="48.6" lengthAdjust="spacingAndGlyphs">3 Oct 20:00</text>
<rect class="ce" x="1157" y="829" width="1" height="3" fill="#000"/>
<text x="1156.7" y="841" font-size="10" fill="#000" stroke="#000" stroke-width="0.35" text-anchor="start" textLength="48.6" lengthAdjust="spacingAndGlyphs">4 Oct 12:00</text>
<rect class="ce" x="1221" y="829" width="1" height="3" fill="#000"/>
<text x="1220.7" y="841" font-size="10" fill="#000" stroke="#000" stroke-width="0.35" text-anchor="start" textLength="48.6" lengthAdjust="spacingAndGlyphs">5 Oct 04:00</text>
<rect class="ce" x="1285" y="829" width="1" height="3" fill="#000"/>
<text x="1284.7" y="841" font-size="10" fill="#000" stroke="#000" stroke-width="0.35" text-anchor="start" textLength="48.6" lengthAdjust="spacingAndGlyphs">5 Oct 20:00</text>
<g id="toolbar" clip-path="url(#tbc)">
<defs><clipPath id="tbc"><rect x="0" y="0" width="1689" height="17"/></clipPath><radialGradient id="gG" cx="0.5" cy="0.45" r="0.6"><stop offset="0" stop-color="#30ff48"/><stop offset="0.6" stop-color="#14e030"/><stop offset="1" stop-color="#0aa81e"/></radialGradient><linearGradient id="gY" x1="0" y1="0" x2="1" y2="1"><stop offset="0" stop-color="#fbe26a"/><stop offset="1" stop-color="#d49c1a"/></linearGradient><radialGradient id="gR" cx="0.4" cy="0.3" r="0.8"><stop offset="0" stop-color="#e4482a"/><stop offset="1" stop-color="#cf2c12"/></radialGradient><linearGradient id="gB" x1="0" y1="0" x2="0" y2="1"><stop offset="0" stop-color="#58b4f4"/><stop offset="1" stop-color="#1c78d8"/></linearGradient><linearGradient id="gC" x1="0" y1="0" x2="0" y2="1"><stop offset="0" stop-color="#2f9cf0"/><stop offset="1" stop-color="#0a55b4"/></linearGradient></defs>
<rect class="ce" x="2" y="0" width="1" height="16" fill="#a0a0a0"/>
<path d="M12.5,-2 H21 L23.5,0.5 V11.5 H12.5 Z" fill="#fff" stroke="#8c8c8c" stroke-width="1"/>
<g class="ce" fill="#9a9a9a"><rect x="14" y="1" width="4" height="1"/><rect x="14" y="4" width="7" height="1"/><rect x="14" y="7" width="4" height="1"/></g>
<path d="M20.4,4.2 H24.2 V7.7 H27.7 V11.5 H24.2 V15.4 H20.4 V11.5 H16.2 V7.7 H20.4 Z" fill="url(#gG)" stroke="#0b8f1b" stroke-width="0.8"/>
<text class="cj" x="30.2" y="9.6" font-size="13.2" font-weight="500" fill="#000" textLength="37.8" lengthAdjust="spacing">新订单</text>
<path d="M78.9,7.5 L84.2,-1 L94.9,6.7 L86.7,13.9 Z" fill="#a8741a"/>
<path d="M80.6,6.6 L85,-1 L94.9,6.2 L88.2,11.6 Z" fill="url(#gY)"/>
<path d="M88.3,12.2 L94.6,7.2" stroke="#f3e4b4" stroke-width="1.1"/>
<rect x="109.4" y="-2" width="10.7" height="10.5" fill="url(#gB)"/>
<rect class="ce" x="112" y="0" width="1" height="8" fill="#e8f4ff"/>
<rect x="114" y="2" width="5" height="1.4" fill="#cfe8ff"/>
<path d="M109.3,13.2 C106.2,13.2 106.2,9.3 109.2,9 C109.6,6.6 113,5.9 114.4,7.8 C115.8,5.8 119.4,6.2 119.8,8.8 C123.4,8.6 123.8,13.2 120.4,13.2 Z" fill="#f4f7fc" stroke="#6f8fc4" stroke-width="0.9"/>
<path d="M108,12.6 H121.6" stroke="#4f6aa6" stroke-width="0.9"/>
<path d="M142.8,5.3 L142.8,13 A7.7,7.7 0 0 0 149.5,1.5 Z" fill="#58b068" opacity="0.8"/>
<g fill="none"><circle cx="142.8" cy="5.3" r="7.3" stroke="#a9c0ea" stroke-width="1.1"/><circle cx="142.8" cy="5.3" r="4.4" stroke="#6f92d8" stroke-width="1.2"/></g>
<rect x="142.2" y="6" width="1.3" height="7.6" fill="#22a832"/>
<circle cx="142.8" cy="5.3" r="1.9" fill="#2f5fc8"/>
<path d="M162.6,4.5 L177.2,4.5 L171,13.6 L169.6,13.6 Z" fill="url(#gY)" stroke="#c29418" stroke-width="0.6"/>
<ellipse cx="169.7" cy="2.6" rx="7.6" ry="2.7" fill="#5aa8de"/>
<ellipse cx="169.7" cy="0.2" rx="4.6" ry="2.8" fill="#3f8fd4"/>
<circle cx="174.4" cy="9.6" r="4.1" fill="#dc2410"/>
<rect x="172.9" y="8.1" width="3" height="3" fill="#fff"/>
<text class="cj" x="183.5" y="9.6" font-size="13.2" font-weight="500" fill="#000" textLength="48.4" lengthAdjust="spacing">自动交易</text>
<rect class="ce" x="238" y="0" width="1" height="18" fill="#a0a0a0"/>
<rect class="ce" x="242" y="0" width="3" height="1" fill="#b4b4b4"/>
<rect class="ce" x="242" y="2" width="3" height="1" fill="#b4b4b4"/>
<rect class="ce" x="242" y="4" width="3" height="1" fill="#b4b4b4"/>
<rect class="ce" x="242" y="6" width="3" height="1" fill="#b4b4b4"/>
<rect class="ce" x="242" y="8" width="3" height="1" fill="#b4b4b4"/>
<rect class="ce" x="242" y="10" width="3" height="1" fill="#b4b4b4"/>
<rect class="ce" x="242" y="12" width="3" height="1" fill="#b4b4b4"/>
<rect class="ce" x="242" y="14" width="3" height="1" fill="#b4b4b4"/>
<g fill="#585858"><rect x="255.85" y="0" width="1.3" height="14"/><rect x="253.9" y="10.85" width="12" height="1.3"/><path d="M265,9.7 L268,11.5 L265,13.3 Z"/><path d="M254.7,1.8 L256.5,-1 L258.3,1.8 Z"/></g>
<g class="ce" fill="#1a9a2a"><rect x="262" y="1" width="1" height="8"/><rect x="260" y="7" width="2" height="1"/><rect x="263" y="2" width="2" height="1"/></g>
<rect class="ce" x="276" y="0" width="1" height="16" fill="#a0a0a0"/>
<rect class="ce" x="277" y="0" width="23" height="15" fill="#f8f8f8"/>
<g fill="#585858"><rect x="283.85" y="0" width="1.3" height="14"/><rect x="281.9" y="10.85" width="12" height="1.3"/><path d="M293,9.7 L296,11.5 L293,13.3 Z"/><path d="M282.7,1.8 L284.5,-1 L286.3,1.8 Z"/></g>
<rect class="ce" x="290" y="0" width="1" height="10" fill="#404040"/><rect x="288.5" y="0" width="4" height="7.5" fill="#20c030" stroke="#0a7a1a" stroke-width="0.8"/>
<g fill="#585858"><rect x="311.85" y="0" width="1.3" height="14"/><rect x="309.9" y="10.85" width="12" height="1.3"/><path d="M321,9.7 L324,11.5 L321,13.3 Z"/><path d="M310.7,1.8 L312.5,-1 L314.3,1.8 Z"/></g>
<path d="M311.2,8.8 C313.5,7 315.2,3.2 317.2,3.1 C319,3 320.4,6.3 322.8,7.2" fill="none" stroke="#1a9a2a" stroke-width="1.1"/>
<rect class="ce" x="333" y="0" width="1" height="16" fill="#a0a0a0"/>
<line x1="352.2" y1="8.2" x2="356.6" y2="12.6" stroke="#a8821a" stroke-width="3.4" stroke-linecap="butt"/>
<line x1="352.4" y1="8.4" x2="356.4" y2="12.4" stroke="#f0d238" stroke-width="2" stroke-linecap="butt"/>
<circle cx="348" cy="3.8" r="5.6" fill="#dcf1fc" stroke="#3f86c6" stroke-width="1.4"/>
<rect x="344.7" y="2.9" width="6.6" height="1.9" fill="#3a86b6"/>
<rect x="347.05" y="0.5" width="1.9" height="6.6" fill="#3a86b6"/>
<line x1="380.5" y1="8.2" x2="384.90000000000003" y2="12.6" stroke="#a8821a" stroke-width="3.4" stroke-linecap="butt"/>
<line x1="380.7" y1="8.4" x2="384.7" y2="12.4" stroke="#f0d238" stroke-width="2" stroke-linecap="butt"/>
<circle cx="376.3" cy="3.8" r="5.6" fill="#dcf1fc" stroke="#3f86c6" stroke-width="1.4"/>
<rect x="373.0" y="2.9" width="6.6" height="1.9" fill="#3a86b6"/>
<rect x="398.2" y="-1.5" width="7.6" height="7.5" rx="0.8" fill="#3fa62a"/>
<rect x="399.3" y="1.1" width="5.5" height="3.8" fill="#fff"/>
<rect x="400.4" y="2.2" width="3.3" height="0.9" fill="#3fa62a" opacity="0.55"/>
<rect x="406.2" y="-1.5" width="7.6" height="7.5" rx="0.8" fill="#2a5fd0"/>
<rect x="407.3" y="1.1" width="5.5" height="3.8" fill="#fff"/>
<rect x="408.4" y="2.2" width="3.3" height="0.9" fill="#2a5fd0" opacity="0.55"/>
<rect x="398.2" y="6.3" width="7.6" height="7.5" rx="0.8" fill="#2a5fd0"/>
<rect x="399.3" y="8.9" width="5.5" height="3.8" fill="#fff"/>
<rect x="400.4" y="10.0" width="3.3" height="0.9" fill="#2a5fd0" opacity="0.55"/>
<rect x="406.2" y="6.3" width="7.6" height="7.5" rx="0.8" fill="#3fa62a"/>
<rect x="407.3" y="8.9" width="5.5" height="3.8" fill="#fff"/>
<rect x="408.4" y="10.0" width="3.3" height="0.9" fill="#3fa62a" opacity="0.55"/>
<rect class="ce" x="423" y="0" width="1" height="16" fill="#a0a0a0"/>
<rect class="ce" x="428" y="0" width="24" height="15" fill="#f8f8f8"/>
<rect class="ce" x="428" y="0" width="1" height="16" fill="#a0a0a0"/>
<g fill="#585858"><rect x="435.85" y="0" width="1.3" height="14"/><rect x="433.9" y="10.85" width="12" height="1.3"/><path d="M445,9.7 L448,11.5 L445,13.3 Z"/><path d="M434.7,1.8 L436.5,-1 L438.3,1.8 Z"/></g>
<path d="M441.5,2.5 L441.5,8.5 L445.8,5.5 Z" fill="#7fe08a" stroke="#1a9a2a" stroke-width="1"/>
<rect class="ce" x="456" y="0" width="1" height="16" fill="#a0a0a0"/>
<rect class="ce" x="457" y="0" width="24" height="15" fill="#f8f8f8"/>
<g fill="#585858"><rect x="463.85" y="0" width="1.3" height="14"/><rect x="461.9" y="10.85" width="12" height="1.3"/><path d="M473,9.7 L476,11.5 L473,13.3 Z"/><path d="M462.7,1.8 L464.5,-1 L466.3,1.8 Z"/></g>
<rect class="ce" x="470" y="0" width="1" height="10" fill="#2f66d4"/>
<path d="M476,5.5 H472 M474,3.5 L472,5.5 L474,7.5" stroke="#d83a1a" stroke-width="1" fill="none"/>
<rect class="ce" x="485" y="0" width="1" height="16" fill="#a0a0a0"/>
<path d="M496,-2 H505 V10.5 H496 Z" fill="#fff" stroke="#8c8c8c" stroke-width="1"/>
<path d="M498,2 L500,0.5 L501.5,2.5 L503.5,1" stroke="#9a9a9a" fill="none" stroke-width="0.8"/>
<path d="M503.4,4.6 H506.8 V8.1 H510.8 V11.3 H506.8 V15.5 H503.4 V11.3 H499.4 V8.1 H503.4 Z" fill="url(#gG)" stroke="#12a022" stroke-width="0.8"/>
<path d="M516.7,4.8 L522.5,4.8 L519.6,8 Z" fill="#000"/>
<circle cx="541" cy="5.8" r="6.5" fill="#f4f8fd" stroke="url(#gC)" stroke-width="2.7"/>
<path d="M541,2 V6.2 H544" stroke="#30363c" stroke-width="1.1" fill="none"/>
<g fill="#8a96a4"><rect x="540.6" y="0.6" width="0.8" height="1.2"/><rect x="540.6" y="9.8" width="0.8" height="1.2"/><rect x="535.8" y="5.4" width="1.2" height="0.8"/><rect x="545" y="5.4" width="1.2" height="0.8"/></g>
<path d="M555.8000000000001,4.8 L561.6,4.8 L558.7,8 Z" fill="#000"/>
<rect x="572.6" y="-2" width="15" height="14.6" fill="#fff" stroke="#4a86d2" stroke-width="1"/>
<rect x="572.1" y="-2" width="16" height="3.8" fill="url(#gB)"/>
<rect class="ce" x="573" y="7" width="14" height="1" fill="#6a9ee0"/>
<path d="M574.5,5.6 H576 L577.5,4.4 H579 L580,5 H581.5 L583,3.8 H586" stroke="#a8341a" fill="none" stroke-width="1.1"/>
<path d="M575,10.8 H576.5 L578,9.8 L579.5,10.8 H581 L583,8.6 L584.5,9.6 L586,11" stroke="#1ca030" fill="none" stroke-width="1.1"/>
<rect x="573" y="13.1" width="15.4" height="0.9" fill="#c4c4c4"/>
<path d="M594.5,4.8 L600.3,4.8 L597.4,8 Z" fill="#000"/>
<rect class="ce" x="606" y="0" width="1" height="18" fill="#a0a0a0"/>
<rect class="ce" x="610" y="0" width="3" height="1" fill="#b4b4b4"/>
<rect class="ce" x="610" y="2" width="3" height="1" fill="#b4b4b4"/>
<rect class="ce" x="610" y="4" width="3" height="1" fill="#b4b4b4"/>
<rect class="ce" x="610" y="6" width="3" height="1" fill="#b4b4b4"/>
<rect class="ce" x="610" y="8" width="3" height="1" fill="#b4b4b4"/>
<rect class="ce" x="610" y="10" width="3" height="1" fill="#b4b4b4"/>
<rect class="ce" x="610" y="12" width="3" height="1" fill="#b4b4b4"/>
<rect class="ce" x="610" y="14" width="3" height="1" fill="#b4b4b4"/>
<rect class="ce" x="617" y="0" width="24" height="15" fill="#f8f8f8"/>
<rect class="ce" x="616" y="0" width="1" height="15" fill="#a0a0a0"/>
<path d="M624.3,-2 L624.3,10.2 L627,7.6 L629.2,12.8 L631.2,11.9 L629,6.9 L632.6,6.7 Z" fill="#484848"/>
<g class="ce" fill="#404040"><rect x="656" y="0" width="1" height="5"/><rect x="656" y="8" width="1" height="6"/><rect x="649" y="6" width="6" height="1"/><rect x="658" y="6" width="6" height="1"/></g>
<rect class="ce" x="673" y="0" width="1" height="16" fill="#a0a0a0"/>
<rect class="ce" x="690" y="0" width="1" height="13" fill="#404040"/>
<rect class="ce" x="713" y="6" width="12" height="1" fill="#404040"/>
<line x1="741" y1="13" x2="753" y2="1" stroke="#404040" stroke-width="1"/>
<g stroke="#505050" stroke-width="0.9"><line x1="767" y1="8" x2="779" y2="-1"/><line x1="768" y1="10.2" x2="780" y2="1"/><line x1="768.5" y1="12.5" x2="781" y2="3"/><line x1="770" y1="5" x2="772" y2="11"/><line x1="773.5" y1="2.5" x2="775.5" y2="8.5"/><line x1="777" y1="0" x2="779" y2="6"/></g>
<text x="777.9" y="14.8" font-size="7.4" font-weight="bold" fill="#2c2c2c" stroke="#2c2c2c" stroke-width="0.3">E</text>
<line class="ce" x1="796" y1="2.5" x2="809" y2="2.5" stroke="#505050" stroke-width="1" stroke-dasharray="1,1"/>
<line class="ce" x1="796" y1="6.5" x2="809" y2="6.5" stroke="#505050" stroke-width="1" stroke-dasharray="1,1"/>
<line class="ce" x1="796" y1="10.5" x2="809" y2="10.5" stroke="#505050" stroke-width="1" stroke-dasharray="1,1"/>
<text x="806" y="14.8" font-size="7.4" font-weight="bold" fill="#2c2c2c" stroke="#2c2c2c" stroke-width="0.3">F</text>
<text x="826.8" y="11" font-size="12.5" fill="#505050" stroke="#505050" stroke-width="0.35" textLength="7.8" lengthAdjust="spacingAndGlyphs">A</text>
<rect x="853.5" y="-0.5" width="11" height="13" fill="none" stroke="#606060" stroke-width="1" stroke-dasharray="1,1" class="ce"/>
<text x="855" y="11" font-size="11.2" fill="#505050" stroke="#505050" stroke-width="0.35" textLength="8.1" lengthAdjust="spacingAndGlyphs">T</text>
<path d="M883.4,-0.5 L887,3 L883.4,5 L879.9,3 Z M890.5,7.8 L894.2,9.6 L890.5,13.2 L886.8,9.6 Z" fill="#484848"/>
<path d="M882.2,7.2 L884.3,9.4 L889,4.2" fill="none" stroke="#484848" stroke-width="1.2"/>
<path d="M900.8000000000001,4.8 L906.6,4.8 L903.7,8 Z" fill="#000"/>
<rect class="ce" x="912" y="0" width="1" height="18" fill="#a0a0a0"/>
<rect class="ce" x="916" y="0" width="3" height="1" fill="#b4b4b4"/>
<rect class="ce" x="916" y="2" width="3" height="1" fill="#b4b4b4"/>
<rect class="ce" x="916" y="4" width="3" height="1" fill="#b4b4b4"/>
<rect class="ce" x="916" y="6" width="3" height="1" fill="#b4b4b4"/>
<rect class="ce" x="916" y="8" width="3" height="1" fill="#b4b4b4"/>
<rect class="ce" x="916" y="10" width="3" height="1" fill="#b4b4b4"/>
<rect class="ce" x="916" y="12" width="3" height="1" fill="#b4b4b4"/>
<rect class="ce" x="916" y="14" width="3" height="1" fill="#b4b4b4"/>
<rect class="ce" x="1063" y="0" width="25" height="15" fill="#f8f8f8"/>
<rect class="ce" x="1062" y="0" width="1" height="15" fill="#a0a0a0"/>
<text x="927.5" y="9.9" font-size="9.5" fill="#505050" textLength="13" lengthAdjust="spacingAndGlyphs">M1</text>
<text x="955.6" y="9.9" font-size="9.5" fill="#505050" textLength="12.8" lengthAdjust="spacingAndGlyphs">M5</text>
<text x="981.7" y="9.9" font-size="9.5" fill="#505050" textLength="17.3" lengthAdjust="spacingAndGlyphs">M15</text>
<text x="1009.6" y="9.9" font-size="9.5" fill="#505050" textLength="17.8" lengthAdjust="spacingAndGlyphs">M30</text>
<text x="1040.9" y="9.9" font-size="9.5" fill="#505050" textLength="11.5" lengthAdjust="spacingAndGlyphs">H1</text>
<text x="1067.9" y="9.9" font-size="9.5" fill="#505050" textLength="12.4" lengthAdjust="spacingAndGlyphs">H4</text>
<text x="1096.8" y="9.9" font-size="9.5" fill="#505050" textLength="11.4" lengthAdjust="spacingAndGlyphs">D1</text>
<text x="1124.2" y="9.9" font-size="9.5" fill="#505050" textLength="13.8" lengthAdjust="spacingAndGlyphs">W1</text>
<text x="1150.4" y="9.9" font-size="9.5" fill="#505050" textLength="15.1" lengthAdjust="spacingAndGlyphs">MN</text>
<rect class="ce" x="1173" y="0" width="1" height="18" fill="#a0a0a0"/>
<line x1="1640.5" y1="6" x2="1636" y2="10.6" stroke="#2f62d8" stroke-width="2.2" stroke-linecap="round"/>
<circle cx="1643.6" cy="2.6" r="3.9" fill="#f4f8ff" stroke="#3a6ae0" stroke-width="1.3"/>
<path d="M1660.4,7.6 C1660.4,4.6 1663.4,2.8 1667,2.8 C1671,2.8 1673.8,4.8 1673.8,7.6 C1673.8,10.4 1671,12.3 1667,12.3 C1666.6,12.3 1666.2,12.3 1665.8,12.2 L1663.2,14.6 L1663.6,11.6 C1661.6,10.8 1660.4,9.4 1660.4,7.6 Z" fill="#f6f6f8" stroke="#b4b4bc" stroke-width="0.9"/>
<circle cx="1674.9" cy="3.4" r="8.1" fill="url(#gR)"/>
<text x="1670.3" y="8" font-size="12.5" font-weight="bold" fill="#fff" style="font-family:'Liberation Serif',serif">1</text>
</g>
</svg></body></html>
